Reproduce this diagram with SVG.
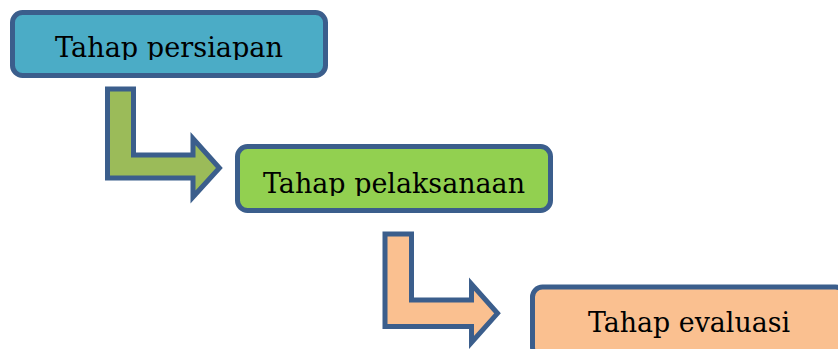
<svg xmlns="http://www.w3.org/2000/svg" width="838" height="349" viewBox="0 0 838 349">
<style>
.box{stroke:#3B5E8C;stroke-width:5;}
.arrow{stroke:#3B5E8C;stroke-width:5;stroke-linejoin:miter;}
.lbl{font-family:"DejaVu Serif","Liberation Serif",serif;font-size:27.5px;fill:#000;text-anchor:middle;}
</style>
<defs>
<clipPath id="c1"><rect x="0" y="0" width="838" height="60"/></clipPath>
<clipPath id="c2"><rect x="0" y="0" width="838" height="196"/></clipPath>
</defs>
<rect width="838" height="349" fill="#fff"/>
<g id="connectors">
<path id="arrow1" class="arrow" fill="#9BBB59" d="M107.5,89 L133.5,89 L133.5,155 L193,155 L193,138.5 L219.4,168 L193,197 L193,178 L107.5,178 Z"/>
<path id="arrow2" class="arrow" fill="#FAC090" d="M385,234 L411.5,234 L411.5,300 L471.5,300 L471.5,284 L497.5,313.3 L471.5,342.5 L471.5,326.5 L385,326.5 Z"/>
</g>
<g id="node1">
<rect class="box" x="12.5" y="12.5" width="313" height="63" rx="10" fill="#4BACC6"/>
<text class="lbl" x="169" y="57.3" textLength="228" lengthAdjust="spacingAndGlyphs" clip-path="url(#c1)">Tahap persiapan</text>
</g>
<g id="node2">
<rect class="box" x="237.5" y="146.5" width="313" height="64" rx="10" fill="#92D050"/>
<text class="lbl" x="394" y="192.7" textLength="262" lengthAdjust="spacingAndGlyphs" clip-path="url(#c2)">Tahap pelaksanaan</text>
</g>
<g id="node3">
<rect class="box" x="532.5" y="287" width="313" height="70" rx="10" fill="#FAC090"/>
<text class="lbl" x="689" y="332" textLength="202" lengthAdjust="spacingAndGlyphs">Tahap evaluasi</text>
</g>
</svg>
